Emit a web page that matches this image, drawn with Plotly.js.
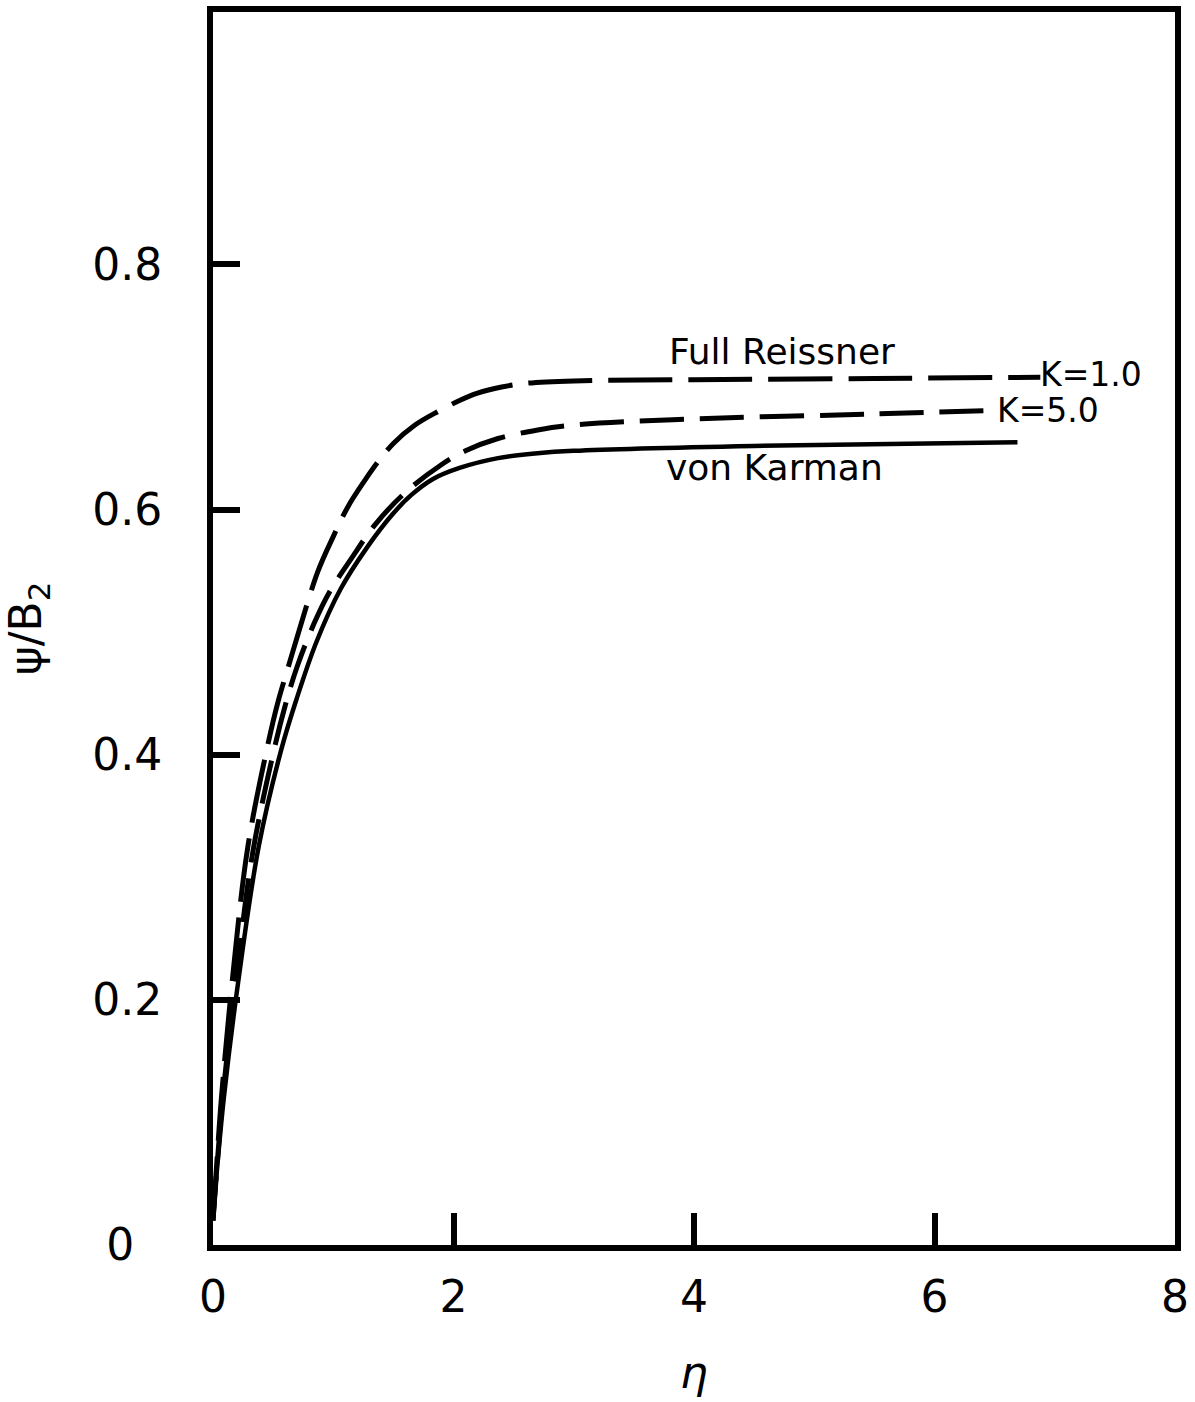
<!DOCTYPE html>
<html>
<head>
<meta charset="utf-8">
<script src="https://cdn.plot.ly/plotly-3.0.1.min.js"></script>
<style>html,body{margin:0;padding:0;background:#fff;}#plot{width:1195px;height:1402px;}</style>
</head>
<body>
<div id="plot"></div>
<script>
// Full Reissner, K = 1.0
const etaK1 = [0, 0.03, 0.07, 0.17, 0.29, 0.46, 0.54, 0.63, 0.70, 0.87, 1.0, 1.12, 1.25, 1.38, 1.5, 1.68, 1.87, 2.05, 2.2, 2.4, 2.6, 3.0, 4.0, 5.5, 6.88];
const psiK1 = [0.02, 0.065, 0.12, 0.225, 0.325, 0.41, 0.443, 0.473, 0.496, 0.549, 0.578, 0.602, 0.622, 0.640, 0.654, 0.669, 0.680, 0.689, 0.695, 0.700, 0.703, 0.705, 0.706, 0.707, 0.708];
// Full Reissner, K = 5.0
const etaK5 = [0, 0.03, 0.08, 0.19, 0.33, 0.51, 0.60, 0.70, 0.84, 0.97, 1.15, 1.35, 1.6, 1.89, 2.1, 2.37, 2.7, 3.0, 4.0, 5.5, 6.5];
const psiK5 = [0.02, 0.06, 0.12, 0.215, 0.32, 0.405, 0.44, 0.472, 0.507, 0.533, 0.560, 0.588, 0.614, 0.636, 0.648, 0.658, 0.665, 0.669, 0.674, 0.678, 0.681];
// von Karman
const etaVK = [0, 0.03, 0.09, 0.21, 0.38, 0.57, 0.70, 0.86, 1.06, 1.28, 1.50, 1.65, 1.83, 2.05, 2.37, 2.7, 3.0, 4.5, 6.69];
const psiVK = [0.02, 0.058, 0.12, 0.215, 0.325, 0.405, 0.447, 0.492, 0.535, 0.569, 0.597, 0.612, 0.625, 0.634, 0.642, 0.646, 0.648, 0.652, 0.655];

const xTicks = [0, 2, 4, 6, 8];
const xTickText = ['0', '2', '4', '6', '8'];
const yTicks = [0, 0.2, 0.4, 0.6, 0.8];
const yTickText = ['0\u2007', '0.2', '0.4', '0.6', '0.8'];

const lineStyle = {color: '#000', width: 5, shape: 'spline', smoothing: 1};

const traces = [
  {x: etaK1, y: psiK1, mode: 'lines', line: Object.assign({}, lineStyle, {dash: '64px,16px'}), name: 'K=1.0'},
  {x: etaK5, y: psiK5, mode: 'lines', line: Object.assign({}, lineStyle, {dash: '44px,16px'}), name: 'K=5.0'},
  {x: etaVK, y: psiVK, mode: 'lines', line: Object.assign({}, lineStyle, {dash: 'solid', width: 4.5}), name: 'von Karman'}
];

const font = {family: 'DejaVu Sans, sans-serif', color: '#000'};
const txtFont = Object.assign({}, font, {size: 36});
const kFont = Object.assign({}, font, {size: 33});

const layout = {
  width: 1195, height: 1402,
  margin: {l: 213, r: 20, t: 12, b: 157},
  paper_bgcolor: '#fff', plot_bgcolor: '#fff',
  showlegend: false,
  font: font,
  xaxis: {
    range: [0, 8], tickvals: xTicks, ticktext: xTickText,
    ticks: 'inside', ticklen: 32, tickwidth: 6, tickcolor: '#000',
    showline: true, linewidth: 6, linecolor: '#000', mirror: true,
    showgrid: false, zeroline: false,
    tickfont: Object.assign({}, font, {size: 44}),
    ticklabelstandoff: 8,
    title: {text: '<i>η</i>', font: Object.assign({}, font, {size: 44}), standoff: 38}
  },
  yaxis: {
    range: [0, 1.006], tickvals: yTicks, ticktext: yTickText,
    ticks: 'inside', ticklen: 27, tickwidth: 6, tickcolor: '#000',
    showline: true, linewidth: 6, linecolor: '#000', mirror: true,
    showgrid: false, zeroline: false,
    tickfont: Object.assign({}, font, {size: 44}),
    ticklabelstandoff: 36,
    title: {text: 'ψ/B<sub>2</sub>', font: Object.assign({}, font, {size: 44}), standoff: 40}
  },
  annotations: [
    {x: 4.73, y: 0.729, xref: 'x', yref: 'y', text: 'Full Reissner', showarrow: false, font: txtFont, xanchor: 'center', yanchor: 'middle'},
    {x: 4.67, y: 0.634, xref: 'x', yref: 'y', text: 'von Karman', showarrow: false, font: txtFont, xanchor: 'center', yanchor: 'middle'},
    {x: 6.88, y: 0.710, xref: 'x', yref: 'y', text: 'K=1.0', showarrow: false, font: kFont, xanchor: 'left', yanchor: 'middle', xshift: -2},
    {x: 6.52, y: 0.681, xref: 'x', yref: 'y', text: 'K=5.0', showarrow: false, font: kFont, xanchor: 'left', yanchor: 'middle', xshift: -2}
  ]
};

Plotly.newPlot('plot', traces, layout, {staticPlot: true, displayModeBar: false});
</script>
</body>
</html>
